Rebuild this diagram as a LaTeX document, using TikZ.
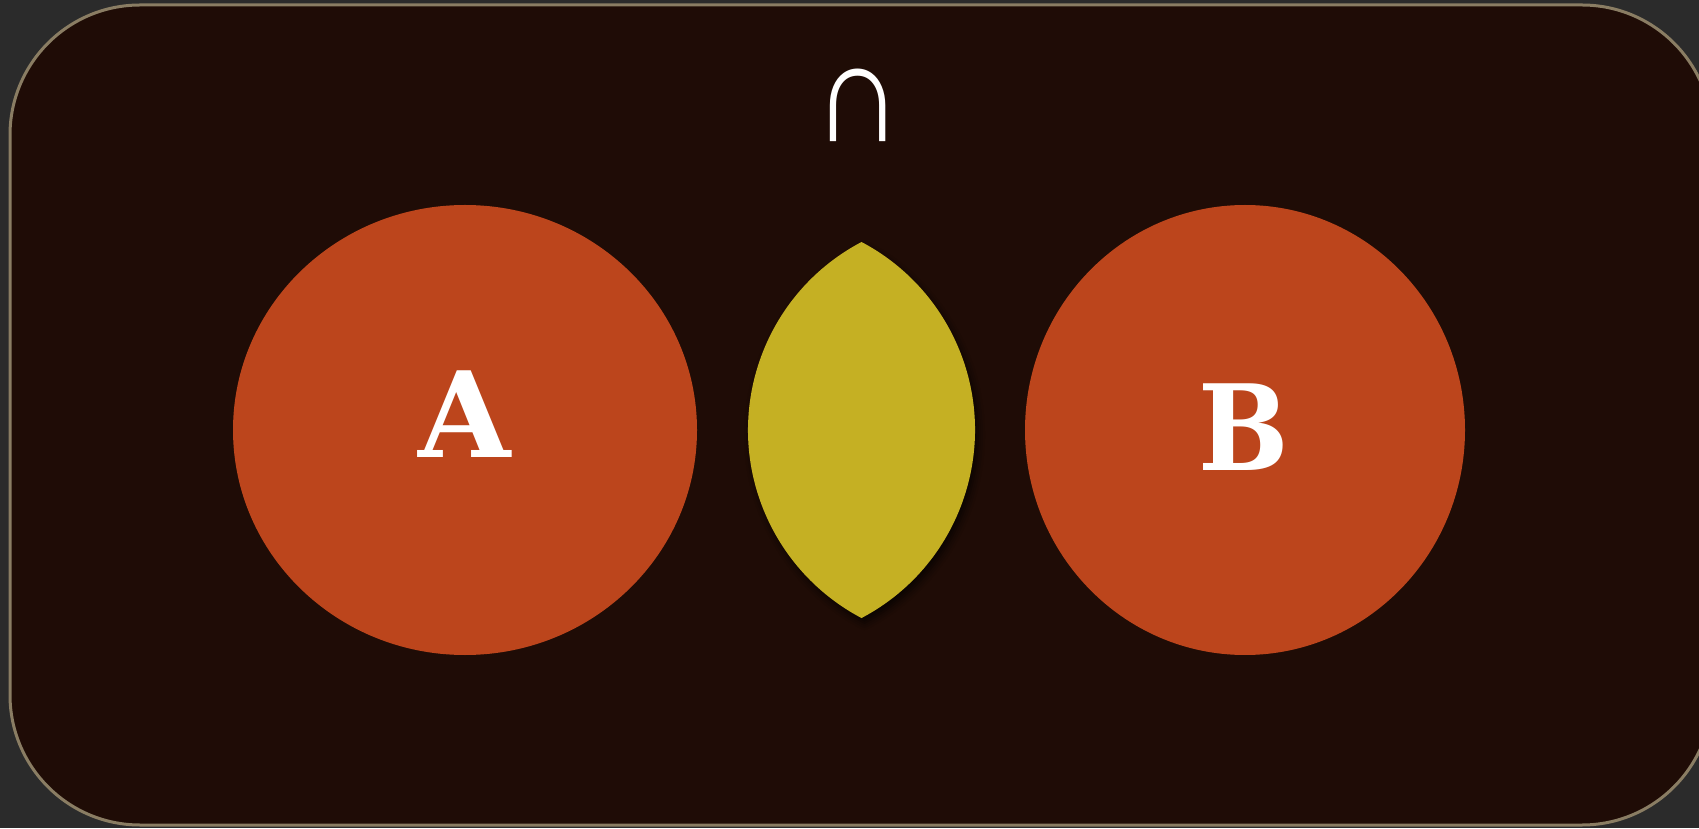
\documentclass[tikz,border=0pt]{standalone}
\usepackage{fontspec}
\usetikzlibrary{shapes.geometric,shadows.blur}
\newfontfamily\symfont{Liberation Sans}
\newfontfamily\letterfont{DejaVu Serif}
\definecolor{outerbg}{HTML}{2B2B2B}
\definecolor{panelbg}{HTML}{1F0C06}
\definecolor{panelline}{HTML}{8A7D63}
\definecolor{setred}{HTML}{BC451C}
\definecolor{lensyellow}{HTML}{C5B023}
\tikzset{
  setcircle/.style={ellipse, fill=setred, draw=none, inner sep=0pt},
  setlabel/.style={text=white, anchor=base, inner sep=0pt, font=\letterfont\bfseries\fontsize{119}{119}\selectfont},
  lens/.style={fill=lensyellow, draw=none, blur shadow={shadow xshift=3pt, shadow yshift=-5pt, shadow blur radius=7pt, shadow opacity=70}},
}
\begin{document}
\begin{tikzpicture}[x=1pt,y=1pt]
\useasboundingbox (0,0) rectangle (1699,828);
\fill[outerbg] (0,0) rectangle (1699,828);
\draw[panelline, fill=panelbg, line width=3pt, rounded corners=130pt] (10,3) rectangle (1712,823);
\node[setcircle, minimum width=464pt, minimum height=450pt] (circA) at (465,398) {};
\node[setcircle, minimum width=440pt, minimum height=450pt] (circB) at (1245,398) {};
\path[lens] (861.5,586) arc[start angle=117.77, end angle=242.23, radius=212.5] arc[start angle=-62.23, end angle=62.23, radius=212.5] -- cycle;
\node[setlabel] (labA) at (465,370) {A};
\node[setlabel, xscale=0.9] (labB) at (1244,357) {B};
\node[text=white, anchor=base, inner sep=0pt, yscale=1.16, font=\symfont\fontsize{124}{124}\selectfont] (cap) at (858.5,686) {∩};
\end{tikzpicture}
\end{document}
